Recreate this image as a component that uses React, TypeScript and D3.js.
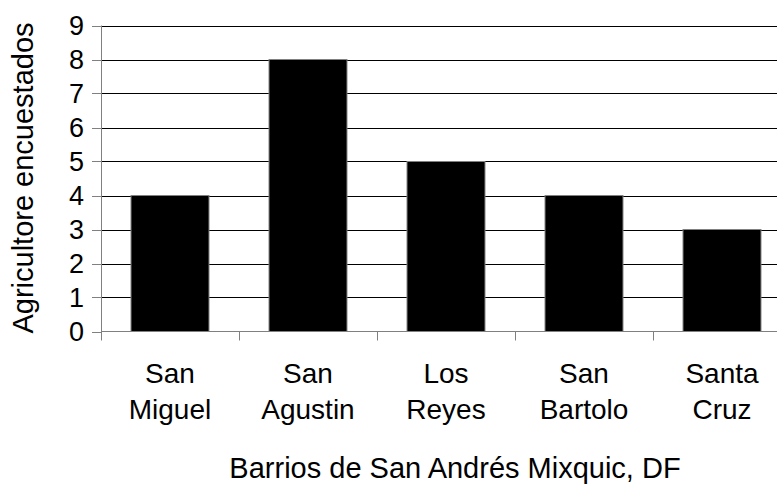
import React from "react";
import * as d3 from "d3";

const categories: string[][] = [
  ["San", "Miguel"],
  ["San", "Agustin"],
  ["Los", "Reyes"],
  ["San", "Bartolo"],
  ["Santa", "Cruz"],
];
const values: number[] = [4, 8, 5, 4, 3];
const yTicks: number[] = [0, 1, 2, 3, 4, 5, 6, 7, 8, 9];
const yTitle = "Agricultore encuestados";
const xTitle = "Barrios de San Andrés Mixquic, DF";

const W = 777;
const H = 485;
const FONT = "Liberation Sans, Arial, sans-serif";

export default function App() {
  const keys = categories.map((c) => c.join(" "));
  const x = d3
    .scaleBand<string>()
    .domain(keys)
    .range([101, 791])
    .paddingInner(0.435)
    .paddingOuter(0.2175);
  const y = d3.scaleLinear().domain([0, 9]).range([331.5, 25.5]);
  const step = x.step();
  const x0 = 101;
  const boundaries = d3.range(keys.length + 1).map((i) => x0 + i * step);

  return (
    <svg
      width={W}
      height={H}
      style={{ position: "absolute", left: 0, top: 0, background: "#fff" }}
      fontFamily={FONT}
    >
      {/* gridlines */}
      {yTicks
        .filter((t) => t > 0)
        .map((t) => (
          <line
            key={"g" + t}
            x1={101}
            x2={W}
            y1={Math.round(y(t)) + 0.5}
            y2={Math.round(y(t)) + 0.5}
            stroke="#000"
            strokeWidth={1}
          />
        ))}
      {/* bars */}
      {keys.map((k, i) => (
        <rect
          key={"b" + k}
          x={x(k)!}
          y={y(values[i])}
          width={x.bandwidth()}
          height={y(0) - y(values[i])}
          fill="#000"
          stroke="#808080"
          strokeWidth={1}
        />
      ))}
      {/* y axis */}
      <line x1={101.5} x2={101.5} y1={y(9)} y2={y(0)} stroke="#808080" strokeWidth={1} />
      {yTicks.map((t) => (
        <g key={"yt" + t}>
          <line
            x1={92}
            x2={101}
            y1={Math.round(y(t)) + 0.5}
            y2={Math.round(y(t)) + 0.5}
            stroke="#808080"
          />
          <text
            x={84}
            y={y(t)}
            dy="0.35em"
            textAnchor="end"
            fontSize={27}
            fill="#000"
          >
            {t}
          </text>
        </g>
      ))}
      {/* x axis */}
      <line x1={101} x2={W} y1={y(0)} y2={y(0)} stroke="#808080" strokeWidth={1} />
      {boundaries.map((b, i) => (
        <line
          key={"xt" + i}
          x1={Math.round(b) + 0.5}
          x2={Math.round(b) + 0.5}
          y1={y(0)}
          y2={y(0) + 9}
          stroke="#808080"
        />
      ))}
      {keys.map((k, i) => (
        <text
          key={"xl" + k}
          x={x(k)! + x.bandwidth() / 2}
          y={383}
          textAnchor="middle"
          fontSize={28}
          fill="#000"
        >
          {categories[i].map((line, j) => (
            <tspan key={j} x={x(k)! + x.bandwidth() / 2} dy={j === 0 ? 0 : 36}>
              {line}
            </tspan>
          ))}
        </text>
      ))}
      {/* titles */}
      <text
        x={455}
        y={478}
        textAnchor="middle"
        fontSize={29}
        fill="#000"
      >
        {xTitle}
      </text>
      <text
        transform={`translate(33,178) rotate(-90)`}
        textAnchor="middle"
        fontSize={29}
        fill="#000"
      >
        {yTitle}
      </text>
    </svg>
  );
}
